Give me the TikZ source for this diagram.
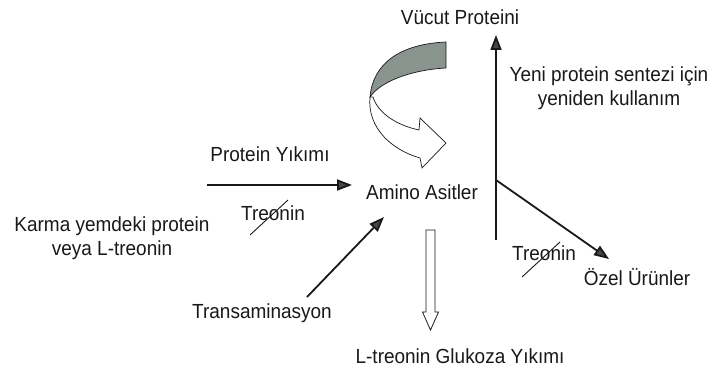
\documentclass[tikz,border=0pt]{standalone}
\usepackage{fontspec}
\setmainfont{Liberation Sans}[FakeStretch=0.93]
\usetikzlibrary{arrows.meta}
\definecolor{bandgray}{RGB}{138,148,143}
\definecolor{inkc}{RGB}{25,25,25}
\definecolor{tipc}{RGB}{70,70,70}
\begin{document}
\begin{tikzpicture}[x=1pt,y=-1pt,
  lbl/.style={font=\fontsize{20.4}{24}\selectfont, inner sep=0pt, anchor=base, text=inkc},
  lbl2/.style={font=\fontsize{20.4}{23.5}\selectfont, inner sep=0pt, align=center, text=inkc},
  flow/.style={line width=1.8pt, draw=inkc, -{Triangle[length=15pt,width=11pt,fill=tipc]}},
  slash/.style={line width=0.9pt, draw=inkc},
  hollow/.style={draw=inkc, line width=0.8pt, fill=white, line join=miter}]
\useasboundingbox (0,0) rectangle (714,374);
\fill[white] (0,0) rectangle (714,374);

% labels
\node[lbl] (vucut) at (460,25) {Vücut Proteini};
\node[lbl2] (yeni) at (609,88) {Yeni protein sentezi için\\yeniden kullanım};
\node[lbl] (amino) at (422,200) {Amino Asitler};
\node[lbl] (yikim) at (270,162) {Protein Yıkımı};
\node[lbl] (treoL) at (273,220) {Treonin};
\node[lbl2] (karma) at (112,238) {Karma yemdeki protein\\veya L-treonin};
\node[lbl] (trans) at (262,318) {Transaminasyon};
\node[lbl] (gluk) at (460,363) {L-treonin Glukoza Yıkımı};
\node[lbl] (treoR) at (544,260) {Treonin};
\node[lbl] (ozel) at (637,285) {Özel Ürünler};

% connector end points
\coordinate (yS) at (207,185);
\coordinate (yE) at (352,185);
\coordinate (tS) at (307,297);
\coordinate (tE) at (384,217);
\coordinate (vS) at (496,240);
\coordinate (vE) at (496,35);
\coordinate (dS) at (496,180);
\coordinate (dE) at (609,259);
\coordinate (sL1) at (250,235);
\coordinate (sL2) at (288,200);
\coordinate (sR1) at (522,277);
\coordinate (sR2) at (560,242);

% arrows
\draw[flow] (yS) -- (yE);
\draw[flow] (tS) -- (tE);
\draw[flow] (vS) -- (vE);
\draw[flow] (dS) -- (dE);

% slashes through Treonin
\draw[slash] (sL1) -- (sL2);
\draw[slash] (sR1) -- (sR2);

% hollow down arrow
\draw[hollow] (426,230) -- (435,230) -- (435,312) -- (438.5,312) -- (430.5,330)
  -- (422.5,312) -- (426,312) -- cycle;

% curved ribbon arrow: white part
\draw[hollow, line width=0.7pt] (370,97) .. controls (367,128) and (392,150) .. (420,158)
  -- (422,168) -- (446,143) -- (420,118) -- (419,130)
  .. controls (396,125) and (378,113) .. (373,97) -- cycle;
% gray band
\filldraw[fill=bandgray, draw=inkc, line width=0.7pt]
  (446,42) .. controls (402,44) and (373,62) .. (370,97)
  .. controls (380,82) and (410,70) .. (446,68) -- cycle;
\end{tikzpicture}
\end{document}
